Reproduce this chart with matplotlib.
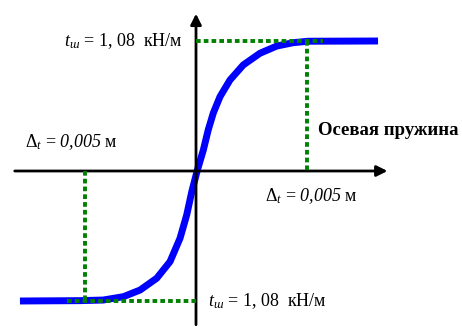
import matplotlib.pyplot as plt

plt.rcParams['font.family'] = ['Liberation Serif', 'DejaVu Serif']
plt.rcParams['mathtext.fontset'] = 'custom'
plt.rcParams['mathtext.rm'] = 'Liberation Serif'
plt.rcParams['mathtext.it'] = 'Liberation Serif:italic'
plt.rcParams['mathtext.sf'] = 'Liberation Serif:italic'  # для курсивных цифр
plt.rcParams['mathtext.bf'] = 'Liberation Serif:bold'

# характеристика осевой пружины
delta_t = 0.005      # м
t_sh = 1.08          # кН/м
curve_x = [-7.93e-3, -5.23e-3, -4.18e-3, -3.27e-3, -2.52e-3, -1.77e-3, -1.17e-3, -0.72e-3,
           -0.42e-3, -0.19e-3, 0.05e-3, 0.33e-3, 0.55e-3, 0.78e-3, 1.08e-3, 1.53e-3,
           2.13e-3, 2.88e-3, 3.64e-3, 4.38e-3, 5.05e-3, 8.2e-3]
curve_y = [-1.08, -1.077, -1.072, -1.044, -0.989, -0.891, -0.753, -0.559,
           -0.366, -0.172, 0.0, 0.174, 0.341, 0.482, 0.617, 0.756,
           0.881, 0.978, 1.038, 1.066, 1.078, 1.08]

label_t = r"$t_{ш}$ = 1, 08  кН/м"
label_d = r"$\Delta_t$ = $\mathsf{0{,}005}$ м"
label_spring = "Осевая пружина"

fig = plt.figure(figsize=(4.62, 3.27), dpi=100, facecolor='white')
ax = fig.add_axes([0, 0, 1, 1])
ax.set_xlim(-0.008829, 0.011982)
ax.set_ylim(-1.296, 1.4206)
ax.axis('off')

# оси со стрелками
ax.annotate('', xy=(0.00875, 0), xytext=(-0.00829, 0),
            arrowprops=dict(arrowstyle='-|>', color='black', lw=2, mutation_scale=16))
ax.annotate('', xy=(0, 1.33), xytext=(0, -1.3),
            arrowprops=dict(arrowstyle='-|>', color='black', lw=2, mutation_scale=16))

# пунктирные линии
green = '#008000'
ls = (0, (1.2, 0.8))
ax.plot([0, 0.0057], [t_sh, t_sh], color=green, lw=2.8, linestyle=ls, zorder=3)
ax.plot([delta_t, delta_t], [t_sh, 0], color=green, lw=2.8, linestyle=ls, zorder=3)
ax.plot([-0.0058, 0], [-t_sh, -t_sh], color=green, lw=2.8, linestyle=ls, zorder=3)
ax.plot([-delta_t, -delta_t], [0, -t_sh], color=green, lw=2.8, linestyle=ls, zorder=3)

# кривая
ax.plot(curve_x, curve_y, color='#0000FF', lw=5, solid_capstyle='butt',
        solid_joinstyle='round', zorder=2)

# подписи
ax.text(-0.0006, t_sh, label_t, ha='right', va='center', fontsize=13)
ax.text(0.00054, -t_sh, label_t, ha='left', va='center', fontsize=13)
ax.text(-0.0077, 0.24, label_d, ha='left', va='center', fontsize=13)
ax.text(0.0031, -0.21, label_d, ha='left', va='center', fontsize=13)
ax.text(0.0055, 0.34, label_spring, ha='left', va='center', fontsize=13.5, fontweight='bold')

plt.savefig('out.png', dpi=100)
plt.close(fig)
